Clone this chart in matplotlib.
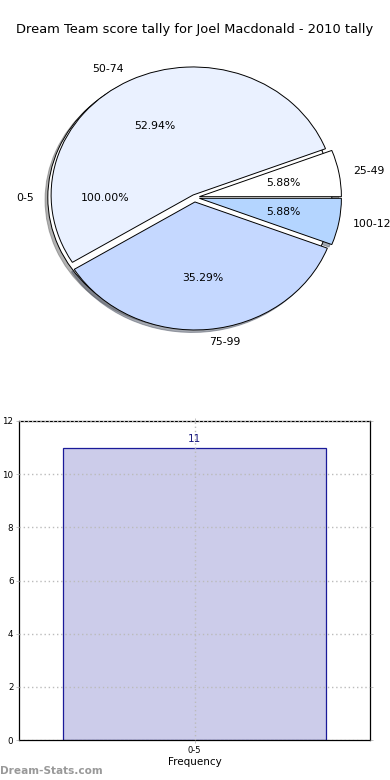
import matplotlib
matplotlib.use("Agg")
import matplotlib.pyplot as plt

# ---- data ----
title = "Dream Team score tally for Joel Macdonald - 2010 tally"
pie_all_label = ["0-5"]
pie_all_value = [1]
pie_labels = ["25-49", "50-74", "75-99", "100-124"]
pie_values = [1, 9, 6, 1]
pie_colors = ["#ffffff", "#eaf1ff", "#c5d8ff", "#b4d5ff"]
bar_categories = ["0-5"]
bar_values = [11]
y_ticks = [0, 2, 4, 6, 8, 10, 12]

W, H = 390, 780
fig = plt.figure(figsize=(3.9, 7.8), dpi=100)

def pos(x0, y0, x1, y1):
    return [x0 / W, 1 - y1 / H, (x1 - x0) / W, (y1 - y0) / H]

fig.text(195 / W, 1 - 30 / H, title, ha="center", va="center", fontsize=9.35)

# ---- pie ----
ax = fig.add_axes(pos(17, 37.5, 372, 357.5))
wp = dict(edgecolor="black", linewidth=0.7)
shadow = dict(ox=-0.014, oy=-0.014, shade=0.6)
ax.pie(pie_all_value, labels=pie_all_label, colors=["white"], autopct="%.2f%%",
       shadow=shadow, explode=[0.033], wedgeprops=wp, textprops=dict(fontsize=7.8))
ax.pie(pie_values, labels=pie_labels, colors=pie_colors, autopct="%.2f%%",
       shadow=shadow, explode=[0.035, 0.022, 0.035, 0.035], wedgeprops=wp,
       textprops=dict(fontsize=7.8))
ax.set_aspect("auto")
ax.set_xlim(-1.25, 1.25)
ax.set_ylim(-1.25, 1.25)
ax.axis("off")

# ---- bar ----
bx = fig.add_axes(pos(19, 421, 370, 740))
bars = bx.bar(range(len(bar_values)), bar_values, width=0.75,
              color="#ccccea", edgecolor="#1a1a99", linewidth=0.9, zorder=1)
for rect, v in zip(bars, bar_values):
    bx.text(rect.get_x() + rect.get_width() / 2, v + 0.15, str(v),
            ha="center", va="bottom", color="#1a1a80", fontsize=7.5)
bx.set_xlim(-0.5, 0.5)
bx.set_ylim(0, 12)
bx.set_yticks(y_ticks)
bx.set_yticklabels([str(t) for t in y_ticks], fontsize=6.3)
bx.set_xticks(range(len(bar_categories)))
bx.set_xticklabels(bar_categories, fontsize=6)
bx.tick_params(length=2, width=0.5, color="#aaaaaa", pad=2, right=True, top=True)
bx.grid(True, linestyle=(0, (1, 2)), color="#bbbbbb", linewidth=1.0, zorder=2)
bx.set_axisbelow(False)
for s in bx.spines.values():
    s.set_linewidth(0.9)
bx.set_xlabel("Frequency", fontsize=7.5, labelpad=2)
bx.set_ylabel("Score Tally", fontsize=7, labelpad=2)
bx.yaxis.set_label_coords(-0.06, 0.5)

fig.text(0 / W, 1 - 771 / H, "Dream-Stats.com", ha="left", va="center",
         fontsize=7.6, color="#999999", fontweight="bold")

fig.savefig("out.png", dpi=100)
